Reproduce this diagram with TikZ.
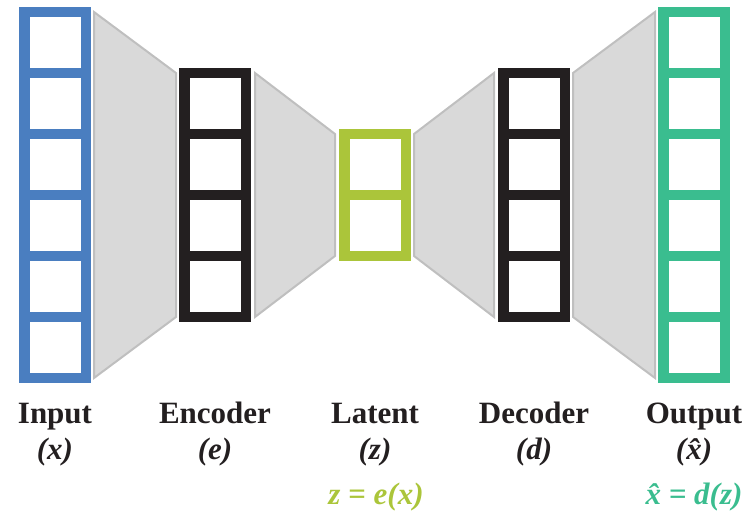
\documentclass[tikz,border=0pt]{standalone}
\usepackage{fontspec}
\setmainfont{Liberation Serif}
\definecolor{cblue}{HTML}{4A7EC0}
\definecolor{cblack}{HTML}{231F20}
\definecolor{clime}{HTML}{ABC53A}
\definecolor{cteal}{HTML}{3ABD8F}
\definecolor{tfill}{HTML}{D9D9D9}
\definecolor{tline}{HTML}{BFBFBF}
\tikzset{
  trap/.style={fill=tfill, draw=tline, line width=2pt, line join=miter},
  lab/.style={anchor=base, font=\fontsize{31}{36}\selectfont\bfseries, text=cblack, inner sep=0pt},
  sub/.style={anchor=base, font=\fontsize{31}{36}\selectfont\bfseries\itshape, text=cblack, inner sep=0pt},
  eq/.style={anchor=base, font=\fontsize{31}{36}\selectfont\bfseries\itshape, inner sep=0pt},
}
% \layercol{name}{center x}{n cells}{colour}
\newcommand{\layercol}[4]{%
  \pgfmathsetmacro{\ltop}{195-(61*#3+10)/2}%
  \pgfmathsetmacro{\lbot}{195+(61*#3+10)/2}%
  \node[fill=#4, minimum width=72pt, minimum height={61*#3+10}, inner sep=0pt, outer sep=0pt] (#1) at (#2,195) {};
  \foreach \k in {1,...,#3} {
    \fill[white] ({#2-25.5},{\ltop+10+61*(\k-1)}) rectangle ({#2+25.5},{\ltop+61*\k});
  }
}
\begin{document}
\begin{tikzpicture}[x=1pt,y=-1pt]
\useasboundingbox (0,0) rectangle (750,513);
% trapezoids
\draw[trap] (94,12) -- (176,73) -- (176,317) -- (94,378) -- cycle;
\draw[trap] (255,73) -- (335,134) -- (335,256) -- (255,317) -- cycle;
\draw[trap] (414,134) -- (494,73) -- (494,317) -- (414,256) -- cycle;
\draw[trap] (573,73) -- (655,12) -- (655,378) -- (573,317) -- cycle;
% columns
\layercol{inp}{55}{6}{cblue}
\layercol{enc}{215}{4}{cblack}
\layercol{lat}{375}{2}{clime}
\layercol{dec}{534}{4}{cblack}
\layercol{out}{694}{6}{cteal}
% labels
\node[lab] (l1) at (55,423) {Input};
\node[lab] (l2) at (215,423) {Encoder};
\node[lab] (l3) at (375,423) {Latent};
\node[lab] (l4) at (534,423) {Decoder};
\node[lab] (l5) at (694,423) {Output};
\node[sub] (s1) at (55,459) {(x)};
\node[sub] (s2) at (215,459) {(e)};
\node[sub] (s3) at (375,459) {(z)};
\node[sub] (s4) at (534,459) {(d)};
\node[sub] (s5) at (694,459) {(\^{x})};
\node[eq, text=clime] (e1) at (376,504) {z = e(x)};
\node[eq, text=cteal] (e2) at (694,504) {\^{x} = d(z)};
\end{tikzpicture}
\end{document}
